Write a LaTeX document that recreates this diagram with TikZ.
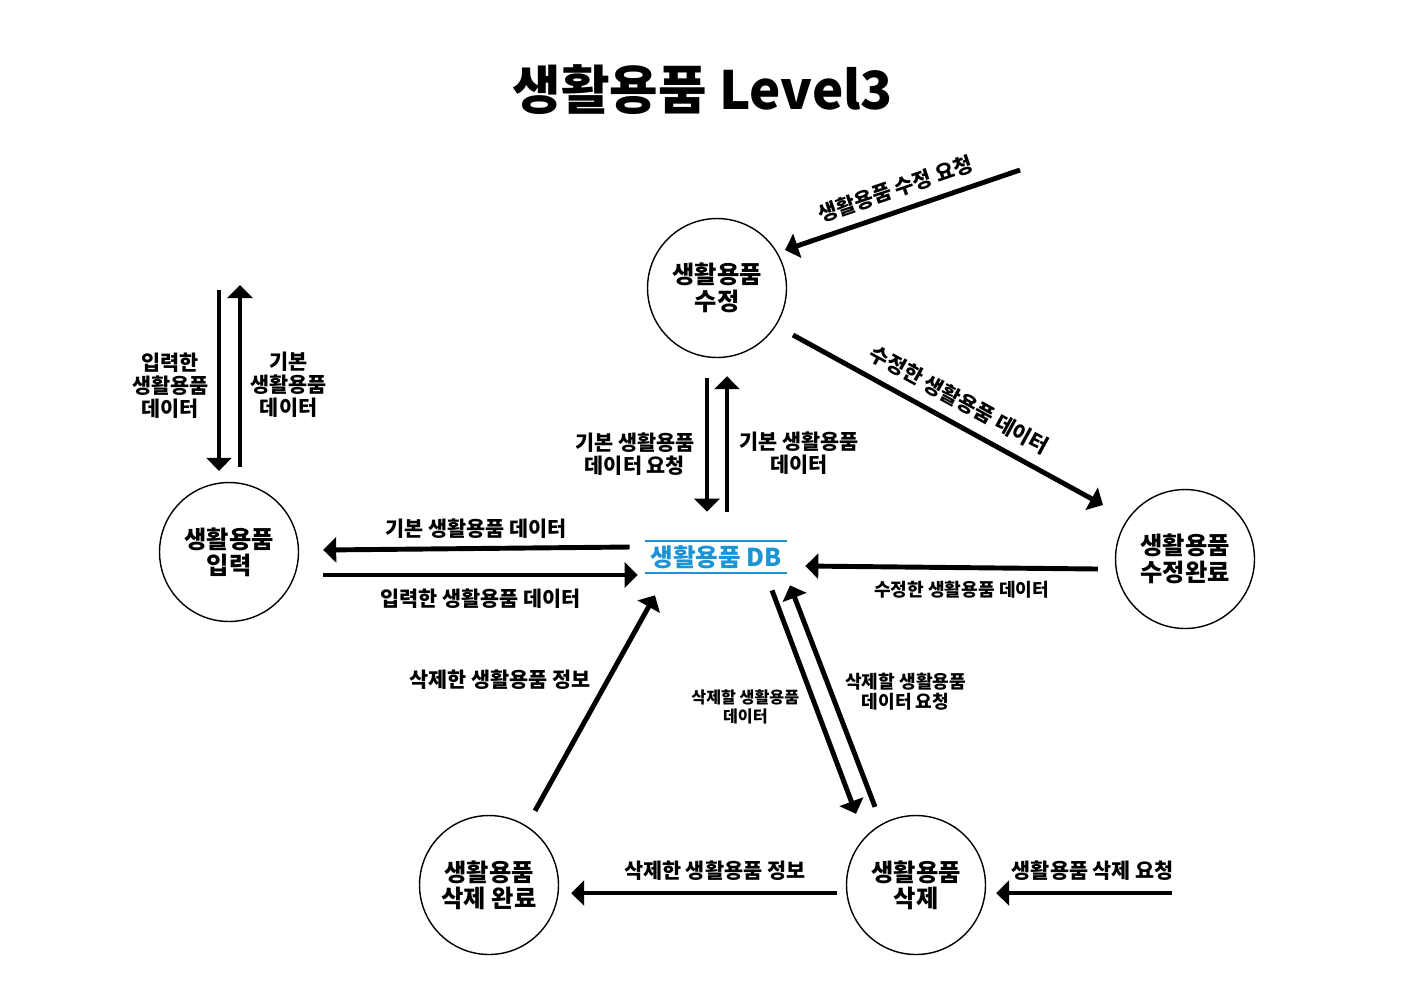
\documentclass[tikz,border=0pt]{standalone}
\usepackage{fontspec}
\setmainfont{Noto Sans CJK KR}
\usetikzlibrary{arrows.meta,positioning,calc}
\definecolor{dbblue}{HTML}{1C94D4}
\tikzset{
  proc/.style  = {draw, circle, line width=0.8pt, minimum size=2.78cm,
                  inner sep=0pt, align=center,
                  font=\bfseries\fontsize{13.8pt}{15pt}\selectfont},
  store/.style = {minimum width=2.84cm, minimum height=0.64cm, inner sep=0pt,
                  text=dbblue, font=\bfseries\fontsize{14pt}{16pt}\selectfont},
  flow/.style  = {-{Triangle[length=0.26cm,width=0.5cm]}, line width=2.8pt},
  lbl/.style   = {align=center, inner sep=0pt,
                  font=\bfseries\fontsize{11.8pt}{13pt}\selectfont},
  lblsm/.style = {lbl, font=\bfseries\fontsize{10.3pt}{11.3pt}\selectfont},
  lblxs/.style = {lbl, font=\bfseries\fontsize{9.2pt}{10.8pt}\selectfont},
}
\begin{document}
\begin{tikzpicture}[x=0.02cm, y=-0.02cm]
\useasboundingbox (0,0) rectangle (1403,992);
% title
\node (title) at (703,90) {\bfseries\fontsize{30pt}{34pt}\selectfont 생활용품 Level3};
% processes
\node[proc] (edit)     at (717,288)  {생활용품\\수정};
\node[proc] (input)    at (229,552)  {생활용품\\입력};
\node[proc] (editdone) at (1185,559) {생활용품\\수정완료};
\node[proc] (deldone)  at (489,885)  {생활용품\\삭제 완료};
\node[proc] (del)      at (916,885)  {생활용품\\삭제};
% data store
\node[store] (db) at (716,557) {생활용품 DB};
\draw[dbblue, line width=1.1pt] (db.north west) -- (db.north east)
  (db.south west) -- (db.south east);
% outside ends
\coordinate (editreq)  at (1020,170);
\coordinate (inputin)  at (219,290);
\coordinate (inputout) at (240,285);
\coordinate (delreq)   at (1172,893);
% edit
\draw[flow] (editreq) -- ($(edit)+(68,-38)$)
  node[lbl, midway, above=0.2cm, sloped] {생활용품 수정 요청};
\draw[flow] ($(edit)+(76,47)$) -- ($(editdone)+(-82,-54)$)
  node[lbl, midway, above=0.22cm, sloped] {수정한 생활용품 데이터};
\draw[flow] ($(edit.south)+(-10,20)$) -- ($(db.north)+(-9,-29)$)
  node[lbl, pos=0.57, left=0.2cm] {기본 생활용품\\데이터 요청};
\draw[flow] ($(db.north)+(11,-29)$) -- ($(edit.south)+(10,18)$)
  node[lbl, pos=0.43, right=0.2cm] {기본 생활용품\\데이터};
\draw[flow] ($(editdone.west)+(-17,10)$) -- ($(db.east)+(18,9)$)
  node[lblsm, midway, below=0.22cm, xshift=0.2cm] {수정한 생활용품 데이터};
% input
\draw[flow] (inputin) -- ($(input.north)+(-10,-11)$)
  node[lbl, pos=0.53, left=0.16cm] {입력한\\생활용품\\데이터};
\draw[flow] ($(input.north)+(11,-15)$) -- (inputout)
  node[lbl, pos=0.45, right=0.16cm] {기본\\생활용품\\데이터};
\draw[flow] ($(db.west)+(-15,-10)$) -- ($(input.east)+(24,-2)$)
  node[lbl, midway, above=0.16cm] {기본 생활용품 데이터};
\draw[flow] ($(input.east)+(24,23)$) -- ($(db.west)+(-7,18)$)
  node[lbl, midway, below=0.22cm] {입력한 생활용품 데이터};
% delete
\draw[flow] ($(deldone.north)+(46,-4)$) -- ($(db.south)+(-61,22)$)
  node[lbl, pos=0.61, left=0.3cm] {삭제한 생활용품 정보};
\draw[flow] ($(db.south)+(56,17)$) -- ($(del.north)+(-60,-1)$)
  node[lblxs, pos=0.52, left=0.28cm] {삭제할 생활용품\\데이터};
\draw[flow] ($(del.north)+(-41,-8)$) -- ($(db.south)+(74,12)$)
  node[lblsm, pos=0.52, right=0.24cm] {삭제할 생활용품\\데이터 요청};
\draw[flow] ($(del.west)+(-9,8)$) -- ($(deldone.east)+(12,8)$)
  node[lbl, pos=0.46, above=0.2cm] {삭제한 생활용품 정보};
\draw[flow] (delreq) -- ($(del.east)+(10,8)$)
  node[lbl, pos=0.45, above=0.2cm] {생활용품 삭제 요청};
\end{tikzpicture}
\end{document}
